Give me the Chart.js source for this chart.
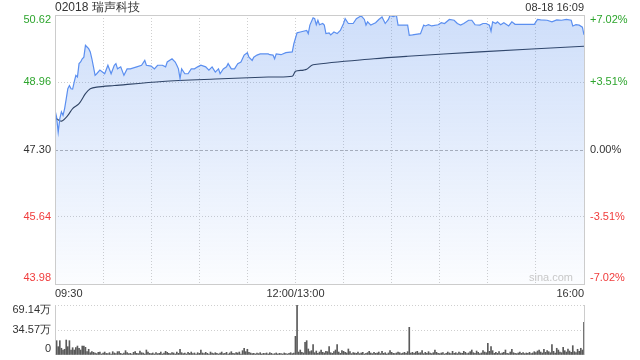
<!DOCTYPE html>
<html>
<head>
<meta charset="utf-8">
<script src="https://cdn.jsdelivr.net/npm/chart.js@4"></script>
<style>
html, body { margin: 0; padding: 0; background: #fff; }
#wrap { position: relative; width: 640px; height: 360px; }
canvas { position: absolute; left: 0; }
#priceChart { top: 0; }
#volChart { top: 300px; }
</style>
</head>
<body>
<div id="wrap">
    <canvas id="priceChart" width="640" height="300"></canvas>
    <canvas id="volChart" width="640" height="60"></canvas>
</div>
<script>
// Data (minutes after 09:30, lunch break removed)
const title = '02018 瑞声科技';
const stamp = '08-18 16:09';
const prevClose = 47.30;
const priceTicks = [43.98, 45.64, 47.30, 48.96, 50.62];
const timeTicks = [0, 150, 330];
const timeLabels = ['09:30', '12:00/13:00', '16:00'];
const volumeTicks = [0, 34.57, 69.14];
const volumeLabels = ['0', '34.57万', '69.14万'];

const priceMinutes = [0, 1, 2, 3, 4, 5, 6, 7, 8, 9, 10, 11, 12, 13, 14, 15, 16, 17, 18, 19,
    20, 21, 22, 23, 24, 25, 26, 28, 31, 33, 35, 37, 38, 39, 41, 43, 45, 47, 51, 54,
    56, 57, 60, 62, 64, 67, 69, 70, 73, 75, 76, 77, 78, 79, 81, 83, 85, 87, 89, 91,
    94, 96, 98, 100, 102, 103, 105, 107, 108, 110, 112, 114, 116, 118, 120, 121, 123, 124, 126, 128,
    133, 134, 136, 137, 138, 141, 144, 148, 149, 151, 153, 157, 158, 159, 161, 162, 163, 164, 165, 167,
    168, 169, 171, 172, 174, 176, 178, 180, 181, 183, 186, 188, 191, 193, 194, 195, 197, 199, 200, 202,
    204, 206, 208, 209, 211, 213, 214, 220, 221, 223, 228, 230, 231, 233, 235, 239, 241, 243, 246, 249,
    251, 253, 255, 258, 260, 262, 265, 267, 269, 271, 272, 273, 275, 276, 278, 280, 283, 285, 287, 299,
    301, 303, 307, 310, 313, 316, 319, 322, 323, 325, 327, 329, 330];
const prices = [48.27, 48.10, 47.73, 48.06, 48.23, 48.14, 48.31, 48.55, 48.80, 48.88, 48.80, 48.79, 48.97, 49.13, 49.09, 49.42, 49.46, 49.54, 49.58, 49.87,
    49.83, 49.79, 49.71, 49.54, 49.34, 49.13, 49.17, 49.26, 49.17, 49.38, 49.17, 49.38, 49.42, 49.29, 49.34, 49.13, 49.29, 49.29, 49.34, 49.38,
    49.50, 49.38, 49.36, 49.29, 49.38, 49.38, 49.34, 49.46, 49.54, 49.46, 49.38, 49.29, 49.05, 49.29, 49.17, 49.17, 49.29, 49.29, 49.34, 49.38,
    49.34, 49.26, 49.34, 49.21, 49.29, 49.17, 49.29, 49.34, 49.42, 49.29, 49.29, 49.42, 49.46, 49.63, 49.69, 49.58, 49.50, 49.58, 49.63, 49.66,
    49.66, 49.64, 49.63, 49.54, 49.66, 49.64, 49.69, 49.71, 49.91, 50.18, 50.20, 50.24, 50.16, 50.37, 50.55, 50.53, 50.38, 50.49, 50.38, 50.41,
    50.37, 50.16, 50.18, 50.13, 50.20, 50.16, 50.24, 50.41, 50.53, 50.41, 50.41, 50.53, 50.60, 50.51, 50.37, 50.45, 50.37, 50.41, 50.43, 50.51,
    50.57, 50.41, 50.51, 50.61, 50.58, 50.61, 50.37, 50.37, 50.12, 50.13, 50.16, 50.37, 50.35, 50.38, 50.35, 50.38, 50.43, 50.41, 50.51, 50.49,
    50.41, 50.37, 50.41, 50.49, 50.49, 50.38, 50.37, 50.41, 50.41, 50.37, 50.22, 50.45, 50.41, 50.45, 50.38, 50.43, 50.35, 50.45, 50.39, 50.39,
    50.51, 50.50, 50.49, 50.45, 50.50, 50.49, 50.51, 50.49, 50.35, 50.38, 50.37, 50.32, 50.13];

const avgMinutes = [0, 1, 4, 8, 11, 15, 19, 22, 26, 37, 67, 100, 133, 148, 150, 155, 157, 161, 199, 220, 265, 330];
const avgPrices = [48.10, 48.06, 48.00, 48.14, 48.31, 48.43, 48.68, 48.80, 48.84, 48.88, 48.98, 49.04, 49.09, 49.11, 49.23, 49.26, 49.28, 49.39, 49.54, 49.60, 49.71, 49.85];

// volume per minute, in 万 shares (index = minute)
const volumes = [
    16.2, 19.8, 11.5, 19.8, 9.3, 6.9, 7.9, 20.7, 11.5, 19.8, 6.9, 10.1, 6.9, 10.1, 12.4, 9.3, 6.9, 12.4, 12.4, 10.6, 4.6, 7.9, 3.2, 4.6, 3.7,
    2.8, 1.9, 3.7, 4.1, 1.4, 2.8, 4.1, 2.2, 1.9, 3.2, 1.4, 4.6, 2.8, 1.9, 4.6, 4.6, 2.3, 1.4, 2.8, 6.0, 3.2, 1.9, 2.3, 1.4, 3.7,
    4.6, 2.3, 1.9, 5.5, 3.2, 2.8, 1.4, 6.9, 4.1, 2.3, 1.9, 2.8, 1.4, 3.2, 1.9, 2.3, 4.1, 1.4, 2.8, 5.1, 3.7, 2.3, 1.9, 3.2, 2.8,
    1.4, 4.1, 2.3, 7.9, 3.2, 1.9, 2.8, 1.4, 3.7, 2.3, 4.1, 1.9, 2.8, 1.4, 3.2, 2.3, 6.9, 2.8, 1.9, 3.7, 2.3, 1.4, 4.1, 2.8, 1.9,
    3.2, 2.3, 1.4, 2.8, 4.1, 1.9, 2.3, 3.7, 1.4, 2.8, 4.6, 2.3, 1.9, 3.2, 2.8, 4.1, 1.4, 6.0, 9.3, 4.6, 7.9, 3.7, 2.8, 1.9, 2.3,
    1.4, 2.8, 1.9, 3.2, 1.4, 2.3, 1.9, 2.8, 1.4, 3.2, 2.3, 1.4, 1.9, 2.8, 1.4, 2.3, 1.9, 1.4, 2.8, 1.9, 1.4, 2.3, 3.2, 1.9, 2.8,
    25.8, 69.14, 4.1, 6.9, 3.7, 2.8, 17.5, 19.8, 8.3, 4.6, 6.0, 14.3, 3.2, 5.5, 2.3, 4.1, 6.9, 3.7, 2.8, 5.1, 4.6, 11.5, 3.2, 2.3, 4.6,
    6.9, 14.3, 4.1, 2.3, 6.0, 5.1, 3.7, 2.8, 8.3, 4.6, 1.9, 3.2, 2.8, 2.3, 4.1, 1.9, 2.8, 3.7, 1.4, 2.3, 3.2, 5.1, 2.8, 1.9, 3.7,
    2.3, 2.8, 4.1, 1.9, 5.1, 2.3, 3.2, 1.4, 2.8, 6.0, 3.7, 2.3, 1.9, 2.8, 4.1, 3.2, 1.9, 2.8, 3.7, 2.3, 4.6, 38.3, 2.8, 3.7, 2.3,
    4.1, 5.1, 2.8, 3.2, 6.0, 1.9, 3.7, 2.3, 4.6, 2.8, 1.9, 3.2, 6.9, 3.7, 2.3, 1.9, 2.8, 3.2, 1.4, 2.3, 4.1, 2.8, 1.9, 5.1, 2.3,
    3.2, 1.9, 4.1, 2.8, 2.3, 5.1, 3.7, 1.9, 2.8, 4.6, 6.9, 3.2, 2.3, 5.5, 3.7, 1.9, 2.8, 6.0, 4.1, 3.2, 16.1, 5.1, 11.5, 6.0, 2.3,
    3.7, 2.3, 4.6, 1.9, 2.8, 3.7, 6.9, 2.3, 1.9, 4.1, 7.9, 3.2, 2.3, 1.9, 2.8, 4.1, 2.3, 3.2, 1.9, 2.8, 2.3, 3.7, 1.9, 2.8, 4.6,
    3.2, 5.5, 6.9, 4.1, 2.8, 7.9, 3.7, 6.0, 4.6, 3.2, 14.3, 5.1, 2.8, 9.3, 6.9, 4.1, 3.2, 10.6, 6.0, 4.1, 8.3, 5.5, 3.7, 12.9, 4.6,
    3.2, 7.9, 5.1, 9.3, 6.9, 45.2
];

const FONT = '"Liberation Sans", Arial, sans-serif';
const GREEN = '#2da52d';
const RED = '#f03c3c';
const DARK = '#333333';
const GRID = '#cfcfcf';

function tickColor(v) {
    if (v > prevClose + 0.001) return GREEN;
    if (v < prevClose - 0.001) return RED;
    return DARK;
}

function pctLabel(v) {
    const p = (v - prevClose) / prevClose * 100;
    const s = Math.abs(p).toFixed(2) + '%';
    if (p > 0.001) return '+' + s;
    if (p < -0.001) return '-' + s;
    return s;
}

// keeps edge labels inside the plot like the original
function clampY(py, area) {
    return Math.min(Math.max(py, area.top + 5), area.bottom - 6);
}

const priceDecor = {
    id: 'priceDecor',
    beforeDatasetsDraw: function(chart) {
        const ctx = chart.ctx;
        const a = chart.chartArea;
        const py = Math.round(chart.scales.y.getPixelForValue(prevClose)) + 0.5;
        ctx.save();
        ctx.strokeStyle = '#b4b4b4';
        ctx.lineWidth = 1;
        ctx.setLineDash([3, 2]);
        ctx.beginPath();
        ctx.moveTo(a.left, py);
        ctx.lineTo(a.right, py);
        ctx.stroke();
        ctx.restore();
    },
    afterDraw: function(chart) {
        const ctx = chart.ctx;
        const a = chart.chartArea;
        const ys = chart.scales.y;
        const xs = chart.scales.x;
        ctx.save();
        ctx.strokeStyle = '#cccccc';
        ctx.lineWidth = 1;
        ctx.strokeRect(Math.round(a.left) + 0.5, Math.round(a.top) + 0.5,
            Math.round(a.right - a.left), Math.round(a.bottom - a.top));

        ctx.textBaseline = 'middle';
        ctx.font = '11px ' + FONT;
        priceTicks.forEach(function(v) {
            const py = clampY(ys.getPixelForValue(v), a);
            ctx.fillStyle = tickColor(v);
            ctx.textAlign = 'right';
            ctx.fillText(v.toFixed(2), a.left - 4, py);
            ctx.textAlign = 'left';
            ctx.fillText(pctLabel(v), a.right + 6, py);
        });

        ctx.fillStyle = DARK;
        timeTicks.forEach(function(t, i) {
            ctx.textAlign = i === 0 ? 'left' : (i === timeTicks.length - 1 ? 'right' : 'center');
            ctx.fillText(timeLabels[i], xs.getPixelForValue(t), a.bottom + 10);
        });

        ctx.font = '12px ' + FONT;
        ctx.textAlign = 'left';
        ctx.fillText(title, a.left, 8);
        ctx.font = '11px ' + FONT;
        ctx.textAlign = 'right';
        ctx.fillText(stamp, a.right, 8);

        ctx.fillStyle = '#c8c8c8';
        ctx.fillText('sina.com', a.right - 11, a.bottom - 6);
        ctx.restore();
    }
};

const priceCtx = document.getElementById('priceChart').getContext('2d');
new Chart(priceCtx, {
    type: 'line',
    data: {
        datasets: [{
            label: 'price',
            data: priceMinutes.map(function(m, i) { return { x: m, y: prices[i] }; }),
            borderColor: '#5b8ff0',
            borderWidth: 1.2,
            pointRadius: 0,
            tension: 0,
            fill: 'start',
            backgroundColor: function(context) {
                const area = context.chart.chartArea;
                if (!area) return 'rgba(66,133,244,0.2)';
                const g = context.chart.ctx.createLinearGradient(0, area.top, 0, area.bottom);
                g.addColorStop(0, 'rgba(66,128,235,0.26)');
                g.addColorStop(1, 'rgba(66,128,235,0.02)');
                return g;
            }
        }, {
            label: 'average',
            data: avgMinutes.map(function(m, i) { return { x: m, y: avgPrices[i] }; }),
            borderColor: '#2c3748',
            borderWidth: 1.1,
            pointRadius: 0,
            tension: 0.3,
            fill: false
        }]
    },
    options: {
        responsive: false,
        animation: false,
        devicePixelRatio: 1,
        layout: { padding: { left: 55, right: 56, top: 15, bottom: 16 } },
        plugins: { legend: { display: false }, tooltip: { enabled: false } },
        scales: {
            x: {
                type: 'linear',
                min: 0,
                max: 330,
                afterFit: function(s) { s.height = 0; },
                ticks: { display: false, stepSize: 30 },
                border: { display: false, dash: [1, 2] },
                grid: {
                    drawTicks: false,
                    color: function(c) { return (c.index === 0 || c.index === 11) ? 'rgba(0,0,0,0)' : GRID; }
                }
            },
            y: {
                min: priceTicks[0],
                max: priceTicks[priceTicks.length - 1],
                afterFit: function(s) { s.width = 0; },
                afterBuildTicks: function(s) { s.ticks = priceTicks.map(function(v) { return { value: v }; }); },
                ticks: { display: false },
                border: { display: false, dash: [1, 2] },
                grid: {
                    drawTicks: false,
                    color: function(c) {
                        const v = c.tick ? c.tick.value : 0;
                        if (c.index === 0 || c.index === priceTicks.length - 1 || Math.abs(v - prevClose) < 0.001) return 'rgba(0,0,0,0)';
                        return GRID;
                    }
                }
            }
        }
    },
    plugins: [priceDecor]
});

const volDecor = {
    id: 'volDecor',
    afterDraw: function(chart) {
        const ctx = chart.ctx;
        const a = chart.chartArea;
        const ys = chart.scales.y;
        ctx.save();
        ctx.strokeStyle = '#cccccc';
        ctx.lineWidth = 1;
        ctx.beginPath();
        ctx.moveTo(Math.round(a.left) + 0.5, a.top);
        ctx.lineTo(Math.round(a.left) + 0.5, a.bottom);
        ctx.moveTo(Math.round(a.right) + 0.5, a.top);
        ctx.lineTo(Math.round(a.right) + 0.5, a.bottom);
        ctx.stroke();
        ctx.font = '11px ' + FONT;
        ctx.fillStyle = DARK;
        ctx.textAlign = 'right';
        ctx.textBaseline = 'middle';
        volumeTicks.forEach(function(v, i) {
            ctx.fillText(volumeLabels[i], a.left - 4, clampY(ys.getPixelForValue(v), a));
        });
        ctx.restore();
    }
};

const volCtx = document.getElementById('volChart').getContext('2d');
new Chart(volCtx, {
    type: 'bar',
    data: {
        datasets: [{
            label: 'volume',
            data: volumes.map(function(v, i) { return { x: i, y: v }; }),
            backgroundColor: '#5a5a5a',
            barThickness: 1
        }]
    },
    options: {
        responsive: false,
        animation: false,
        devicePixelRatio: 1,
        layout: { padding: { left: 55, right: 56, top: 5, bottom: 5 } },
        plugins: { legend: { display: false }, tooltip: { enabled: false } },
        scales: {
            x: {
                type: 'linear',
                min: 0,
                max: 330,
                offset: false,
                afterFit: function(s) { s.height = 0; },
                ticks: { display: false },
                border: { display: false },
                grid: { display: false }
            },
            y: {
                min: 0,
                max: volumeTicks[volumeTicks.length - 1],
                afterFit: function(s) { s.width = 0; },
                afterBuildTicks: function(s) { s.ticks = volumeTicks.map(function(v) { return { value: v }; }); },
                ticks: { display: false },
                border: { display: false, dash: [1, 2] },
                grid: {
                    drawTicks: false,
                    color: function(c) { return c.index === 0 ? 'rgba(0,0,0,0)' : GRID; }
                }
            }
        }
    },
    plugins: [volDecor]
});
</script>
</body>
</html>
